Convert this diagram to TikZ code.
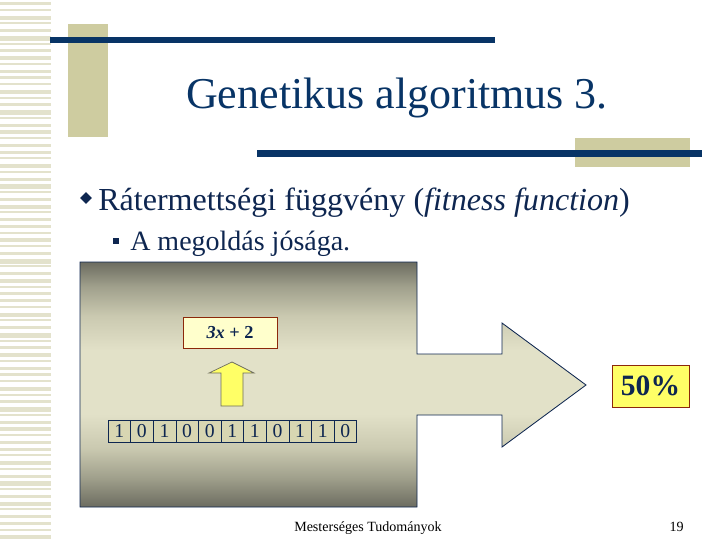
\documentclass[tikz,border=0pt]{standalone}
\usepackage{fontspec}
\setmainfont{Liberation Serif}
\usetikzlibrary{shapes.geometric,positioning}
\definecolor{navy}{RGB}{8,52,102}
\definecolor{inknavy}{RGB}{14,38,80}
\definecolor{stripe}{RGB}{227,226,204}
\definecolor{khaki}{RGB}{206,204,160}
\definecolor{boxdark}{RGB}{108,108,96}
\definecolor{boxmid}{RGB}{160,160,140}
\definecolor{boxsoft}{RGB}{202,201,176}
\definecolor{boxlight}{RGB}{226,225,200}
\definecolor{cream}{RGB}{255,255,204}
\definecolor{lemon}{RGB}{255,255,102}
\definecolor{brick}{RGB}{140,40,10}
\definecolor{bitfill}{RGB}{216,214,178}
\pgfdeclareverticalshading{boxfade}{100bp}{color(0bp)=(boxdark); color(25bp)=(boxdark);
  color(31bp)=(boxmid); color(37bp)=(boxsoft); color(44bp)=(boxlight); color(57bp)=(boxlight);
  color(64bp)=(boxsoft); color(70bp)=(boxmid); color(75bp)=(boxdark); color(100bp)=(boxdark)}

\begin{document}
\begin{tikzpicture}[
  x=0.025cm, y=-0.025cm,
  bar/.style={fill=navy},
  deco/.style={fill=khaki},
  txt/.style={inner sep=0,anchor=base west,text=inknavy},
  bit/.style={draw=inknavy,fill=bitfill,minimum width=16.1pt,minimum height=15.6pt,
    inner sep=0,font=\fontsize{14}{15}\selectfont,text=inknavy},
]
  \useasboundingbox (0,0) rectangle (720,540);

  % striped margin
  \foreach \i in {0,...,79} {
    \pgfmathsetmacro{\h}{{3,2,4,2,3,5,2,3,4,2,3}[mod(\i,11)]}
    \fill[stripe] (0,{\i*6.75+2}) rectangle (51,{\i*6.75+2+\h});
  }

  % title decoration
  \fill[deco] (68,24) rectangle (108,137);
  \fill[bar] (50,37) rectangle (495,43);
  \fill[deco] (575,138) rectangle (690,167);
  \fill[bar] (257,150) rectangle (702,157);
  \node[inner sep=0,anchor=base,text=navy,font=\fontsize{31.3}{36}\selectfont]
    (title) at (397,108) {Genetikus algoritmus 3.};

  % bullets
  \node[diamond,fill=inknavy,inner sep=0,minimum width=8.5pt,minimum height=8.5pt]
    (d1) at (86,198) {};
  \node[txt,font=\fontsize{22.8}{26}\selectfont] (b1) at (98,210)
    {Rátermettségi függvény (\textit{fitness function})};
  \node[fill=inknavy,inner sep=0,minimum size=4.3pt] (s1) at (116,241) {};
  \node[txt,font=\fontsize{19.9}{23}\selectfont] (b2) at (130,250)
    {A megoldás jósága.};

  % big arrow
  \draw[inknavy,line width=0.6pt,shading=boxfade]
    (80,262) -- (417,262) -- (417,354) -- (502,354) -- (502,323) -- (586,385)
    -- (502,447) -- (502,415) -- (417,415) -- (417,507) -- (80,507) -- cycle;

  % fitness formula
  \node[draw=brick,fill=cream,line width=0.6pt,minimum width=66.9pt,minimum height=22pt,
    text=inknavy,font=\fontsize{13}{14}\selectfont\bfseries]
    (fx) at (230,332.5) {\textit{3x} + 2};
  \draw[boxdark,fill=lemon,line width=0.5pt]
    (221,406) -- (221,373) -- (209,373) -- (232,362) -- (254,373) -- (243,373)
    -- (243,406) -- cycle;

  % chromosome
  \foreach \b [count=\k] in {1,0,1,0,0,1,1,0,1,1,0}
    \node[bit] (c\k) at ({108+11.3+(\k-1)*22.6},431) {\b};

  % result
  \node[draw=brick,fill=lemon,line width=0.6pt,minimum width=54.8pt,minimum height=29.9pt,
    text=inknavy,font=\fontsize{21}{23}\selectfont\bfseries]
    (res) at (650.5,386) {50\%};

  % footer
  \node[inner sep=0,anchor=base,font=\fontsize{10}{12}\selectfont]
    (foot) at (368,531) {Mesterséges Tudományok};
  \node[inner sep=0,anchor=base east,font=\fontsize{10}{12}\selectfont]
    (page) at (684,531) {19};
\end{tikzpicture}
\end{document}
